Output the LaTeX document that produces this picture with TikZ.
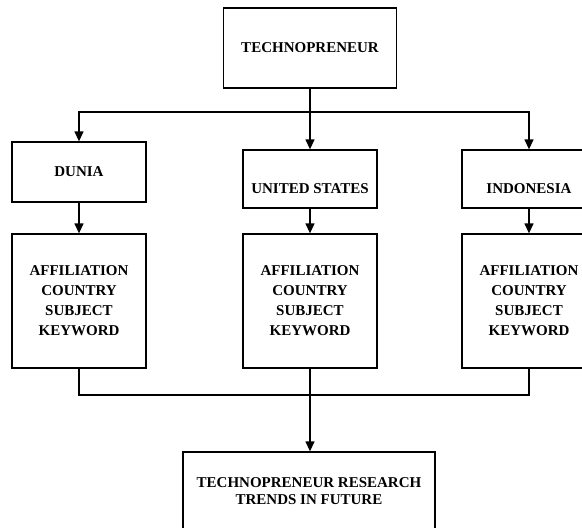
\documentclass[tikz,border=0pt]{standalone}
\usepackage{fontspec}
\setmainfont{Liberation Serif}
\usetikzlibrary{arrows.meta}
\begin{document}
\begin{tikzpicture}[x=1pt,y=-1pt,
  box/.style={draw=black, line width=1.3pt, rectangle, inner sep=0pt, align=center,
    font=\fontsize{15}{20}\selectfont\bfseries},
  conn/.style={draw=black, line width=1.3pt},
  arr/.style={conn, -{Triangle[length=10pt,width=9pt]}}]
\clip (0,0) rectangle (582,528);
\fill[white] (0,0) rectangle (582,528);
% top
\node[box, minimum width=173pt, minimum height=80pt] (top) at (310,48) {TECHNOPRENEUR};
% middle row
\node[box, minimum width=134pt, minimum height=60pt] (dunia) at (79,172) {DUNIA};
\node[box, minimum width=134pt, minimum height=58pt, text height=28pt, text depth=0pt] (us) at (310,179) {UNITED STATES};
\node[box, minimum width=134pt, minimum height=58pt, text height=28pt, text depth=0pt] (indo) at (529,179) {INDONESIA};
% big boxes
\node[box, minimum width=134pt, minimum height=134pt] (b1) at (79,301) {AFFILIATION\\COUNTRY\\SUBJECT\\KEYWORD};
\node[box, minimum width=134pt, minimum height=134pt] (b2) at (310,301) {AFFILIATION\\COUNTRY\\SUBJECT\\KEYWORD};
\node[box, minimum width=134pt, minimum height=134pt] (b3) at (529,301) {AFFILIATION\\COUNTRY\\SUBJECT\\KEYWORD};
% bottom
\node[box, minimum width=252pt, minimum height=78pt,
  font=\fontsize{15}{17}\selectfont\bfseries] (fut) at (309,491)
  {TECHNOPRENEUR RESEARCH\\TRENDS IN FUTURE};
% connectors
\coordinate (j1) at (310,112);
\coordinate (j2) at (310,395);
\draw[conn] (top.south) -- (j1);
\draw[arr] (j1) -- (us.north);
\draw[arr] (j1) -| (dunia.north);
\draw[arr] (j1) -| (indo.north);
\draw[arr] (dunia) -- (b1);
\draw[arr] (us) -- (b2);
\draw[arr] (indo) -- (b3);
\draw[conn] (b1.south) |- (j2) -| (b3.south);
\draw[conn] (b2.south) -- (j2);
\draw[arr] (j2) -- (fut.north -| j2);
\end{tikzpicture}
\end{document}
